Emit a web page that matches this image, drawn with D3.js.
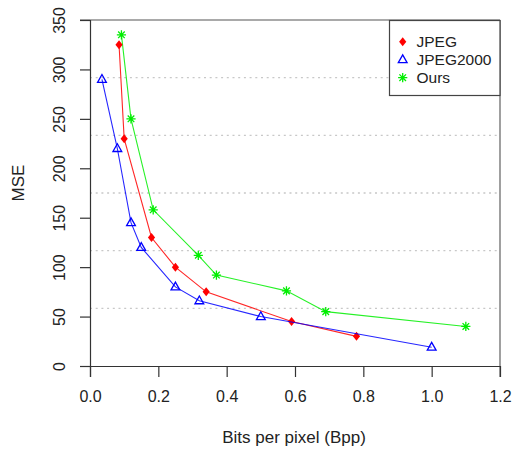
<!DOCTYPE html>
<html><head><meta charset="utf-8">
<script src="https://cdn.jsdelivr.net/npm/d3@7"></script>
<style>body{margin:0;background:#fff}svg{display:block}text{font-family:"Liberation Sans",Arial,sans-serif;fill:#222}</style>
</head><body><div id="c"></div>
<script>
const seriesNames = ["JPEG", "JPEG2000", "Ours"];
const seriesColors = ["#ff0000", "#0000ff", "#00ee00"];
const jpegX = [0.085, 0.10, 0.18, 0.25, 0.34, 0.59, 0.78];
const jpegY = [325, 230, 130, 100, 75, 45, 30];
const j2kX = [0.035, 0.08, 0.12, 0.15, 0.25, 0.32, 0.50, 1.00];
const j2kY = [290, 220, 145, 120, 80, 66, 50, 19];
const oursX = [0.092, 0.12, 0.185, 0.317, 0.37, 0.575, 0.69, 1.10];
const oursY = [335, 250, 158, 112, 92, 76, 55, 40];
const xTicks = [0, 0.2, 0.4, 0.6, 0.8, 1.0, 1.2];
const yTicks = [0, 50, 100, 150, 200, 250, 300, 350];
const gridY = [350/6, 700/6, 1050/6, 1400/6, 1750/6];
const xTitle = "Bits per pixel (Bpp)";
const yTitle = "MSE";

const W = 512, H = 449;
const L = 90, R = 500, T = 20, B = 366;
const svg = d3.select("#c").append("svg").attr("width", W).attr("height", H);
const x = d3.scaleLinear().domain([0, 1.2]).range([L, R]);
const y = d3.scaleLinear().domain([0, 350]).range([B, T]);

// grid
svg.append("g").selectAll("line").data(gridY).join("line")
  .attr("x1", L).attr("x2", R).attr("y1", d => y(d)).attr("y2", d => y(d))
  .attr("stroke", "#c8c8c8").attr("stroke-width", 1.3).attr("stroke-dasharray", "2,3.7");

// frame lines
svg.append("line").attr("x1", 80).attr("x2", R).attr("y1", T).attr("y2", T).attr("stroke", "#555").attr("stroke-width", 1.2);
svg.append("line").attr("x1", R).attr("x2", R).attr("y1", T).attr("y2", B + 11).attr("stroke", "#777").attr("stroke-width", 1.4);

// axes
const xAxis = d3.axisBottom(x).tickValues(xTicks).tickFormat(d3.format(".1f")).tickSize(11).tickPadding(14);
const gx = svg.append("g").attr("transform", `translate(0,${B})`).call(xAxis);
gx.select(".domain").attr("d", `M80,0.5H${R}`).attr("stroke", "#333").attr("stroke-width", 1.2);
gx.selectAll(".tick line").attr("stroke", "#333").attr("stroke-width", 1.2);
gx.selectAll(".tick text").attr("font-size", 16).attr("fill", "#222").style("font-family", "Liberation Sans, Arial, sans-serif");

const yAxis = d3.axisLeft(y).tickValues(yTicks).tickSize(10).tickPadding(0);
const gy = svg.append("g").attr("transform", `translate(${L},0)`).call(yAxis);
gy.select(".domain").attr("d", `M0.5,${T}V${B + 11}`).attr("stroke", "#333").attr("stroke-width", 1.2);
gy.selectAll(".tick line").attr("stroke", "#333").attr("stroke-width", 1.2);
gy.selectAll(".tick text").attr("font-size", 16).attr("fill", "#222")
  .attr("x", 0).attr("dy", 0).attr("text-anchor", "middle")
  .attr("transform", "translate(-25,0) rotate(-90)")
  .style("font-family", "Liberation Sans, Arial, sans-serif");

// titles
svg.append("text").attr("x", 294).attr("y", 443).attr("text-anchor", "middle").attr("font-size", 17).text(xTitle);
svg.append("text").attr("transform", "translate(24,183) rotate(-90)").attr("text-anchor", "middle").attr("font-size", 17).text(yTitle);

// markers
function diamond(g, cx, cy, col) {
  g.append("path").attr("d", `M${cx},${cy-4.5}L${cx+3.6},${cy}L${cx},${cy+4.5}L${cx-3.6},${cy}Z`).attr("fill", col);
}
function triangle(g, cx, cy, col) {
  g.append("path").attr("d", `M${cx},${cy-4.8}L${cx+4.4},${cy+3}L${cx-4.4},${cy+3}Z`)
    .attr("fill", "none").attr("stroke", col).attr("stroke-width", 1.3);
}
function star(g, cx, cy, col) {
  const r = 4.6, k = 3.3;
  g.append("path").attr("d", `M${cx-r},${cy}H${cx+r}M${cx},${cy-r}V${cy+r}M${cx-k},${cy-k}L${cx+k},${cy+k}M${cx-k},${cy+k}L${cx+k},${cy-k}`)
    .attr("stroke", col).attr("stroke-width", 1.3).attr("fill", "none");
}
const markers = [diamond, triangle, star];
const seriesX = [jpegX, j2kX, oursX];
const seriesY = [jpegY, j2kY, oursY];
const line = d3.line().x(d => x(d[0])).y(d => y(d[1]));
const drawOrder = [2, 0, 1];
drawOrder.forEach(i => {
  const pts = seriesX[i].map((v, k) => [v, seriesY[i][k]]);
  const g = svg.append("g");
  g.append("path").datum(pts).attr("d", line).attr("fill", "none")
    .attr("stroke", seriesColors[i]).attr("stroke-width", 1.1).attr("stroke-opacity", 0.85);
  pts.forEach(p => markers[i](g, x(p[0]), y(p[1]), seriesColors[i]));
});

// legend
const lg = svg.append("g");
lg.append("rect").attr("x", 389.5).attr("y", 20.5).attr("width", 110.5).attr("height", 75)
  .attr("fill", "#fff").attr("stroke", "#444").attr("stroke-width", 1.2);
seriesNames.forEach((n, i) => {
  const cy = 41.7 + i * 18;
  markers[i](lg, 402.7, cy, seriesColors[i]);
  lg.append("text").attr("x", 416.5).attr("y", cy + 5.6).attr("font-size", 15.5).text(n);
});
</script></body></html>
